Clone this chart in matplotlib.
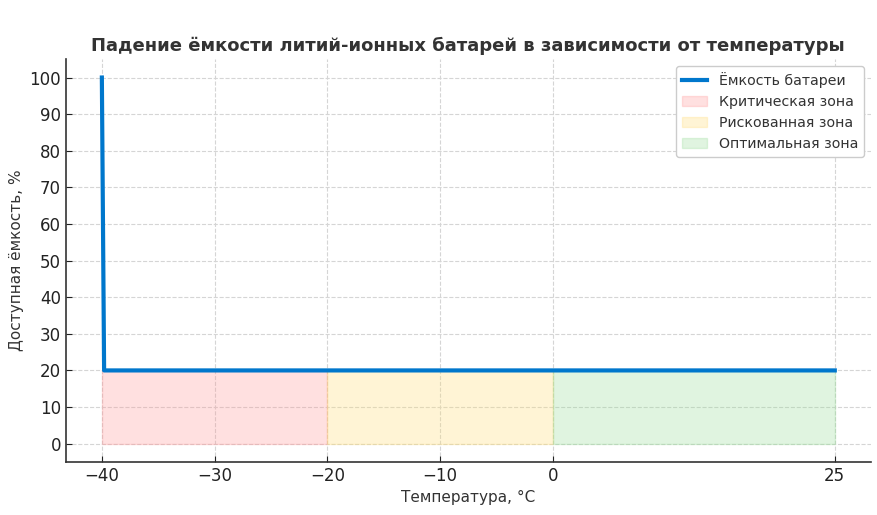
import matplotlib.pyplot as plt
import numpy as np

# battery capacity curve as drawn
temps = [-40, -39.8, 25]
capacity = [100, 20, 20]

# zones: (start, end, label, colour)
zone_edges = [-40, -20, 0, 25]
zone_labels = ['Критическая зона', 'Рискованная зона', 'Оптимальная зона']
zone_colors = ['#ff9999', '#ffdd77', '#99dd99']
zone_top = 20

xticks = [-40, -30, -20, -10, 0, 25]
yticks = list(range(0, 101, 10))

fig, ax = plt.subplots(figsize=(8.77, 5.15), dpi=100)

ax.plot(temps, capacity, color='#0077cc', lw=3, label='Ёмкость батареи', zorder=3)
for i, lab in enumerate(zone_labels):
    ax.fill_between([zone_edges[i], zone_edges[i + 1]], 0, zone_top,
                    color=zone_colors[i], alpha=0.3, label=lab, zorder=2)

ax.set_xticks(xticks)
ax.set_yticks(yticks)
ax.set_xlim(-43.2, 28.2)
ax.set_ylim(-5, 105)
ax.tick_params(direction='in', labelsize=12, colors='#222222', length=4)
ax.grid(True, ls='--', color='#d5d5d5', lw=0.8, zorder=0)
for s in ['top', 'right']:
    ax.spines[s].set_visible(False)
for s in ['left', 'bottom']:
    ax.spines[s].set_color('#333333')
    ax.spines[s].set_linewidth(1.2)

ax.set_title('Падение ёмкости литий-ионных батарей в зависимости от температуры',
             fontsize=13, fontweight='bold', color='#333333')
ax.set_xlabel('Температура, °C', fontsize=11, color='#333333')
ax.set_ylabel('Доступная ёмкость, %', fontsize=11, color='#333333')
leg = ax.legend(loc='upper right', fontsize=10.2, framealpha=1, edgecolor='#cccccc',
                borderaxespad=0.5, handlelength=1.8)
for t in leg.get_texts():
    t.set_color('#333333')

fig.subplots_adjust(left=0.075, right=0.993, bottom=0.103, top=0.885)
fig.savefig('out.png')
